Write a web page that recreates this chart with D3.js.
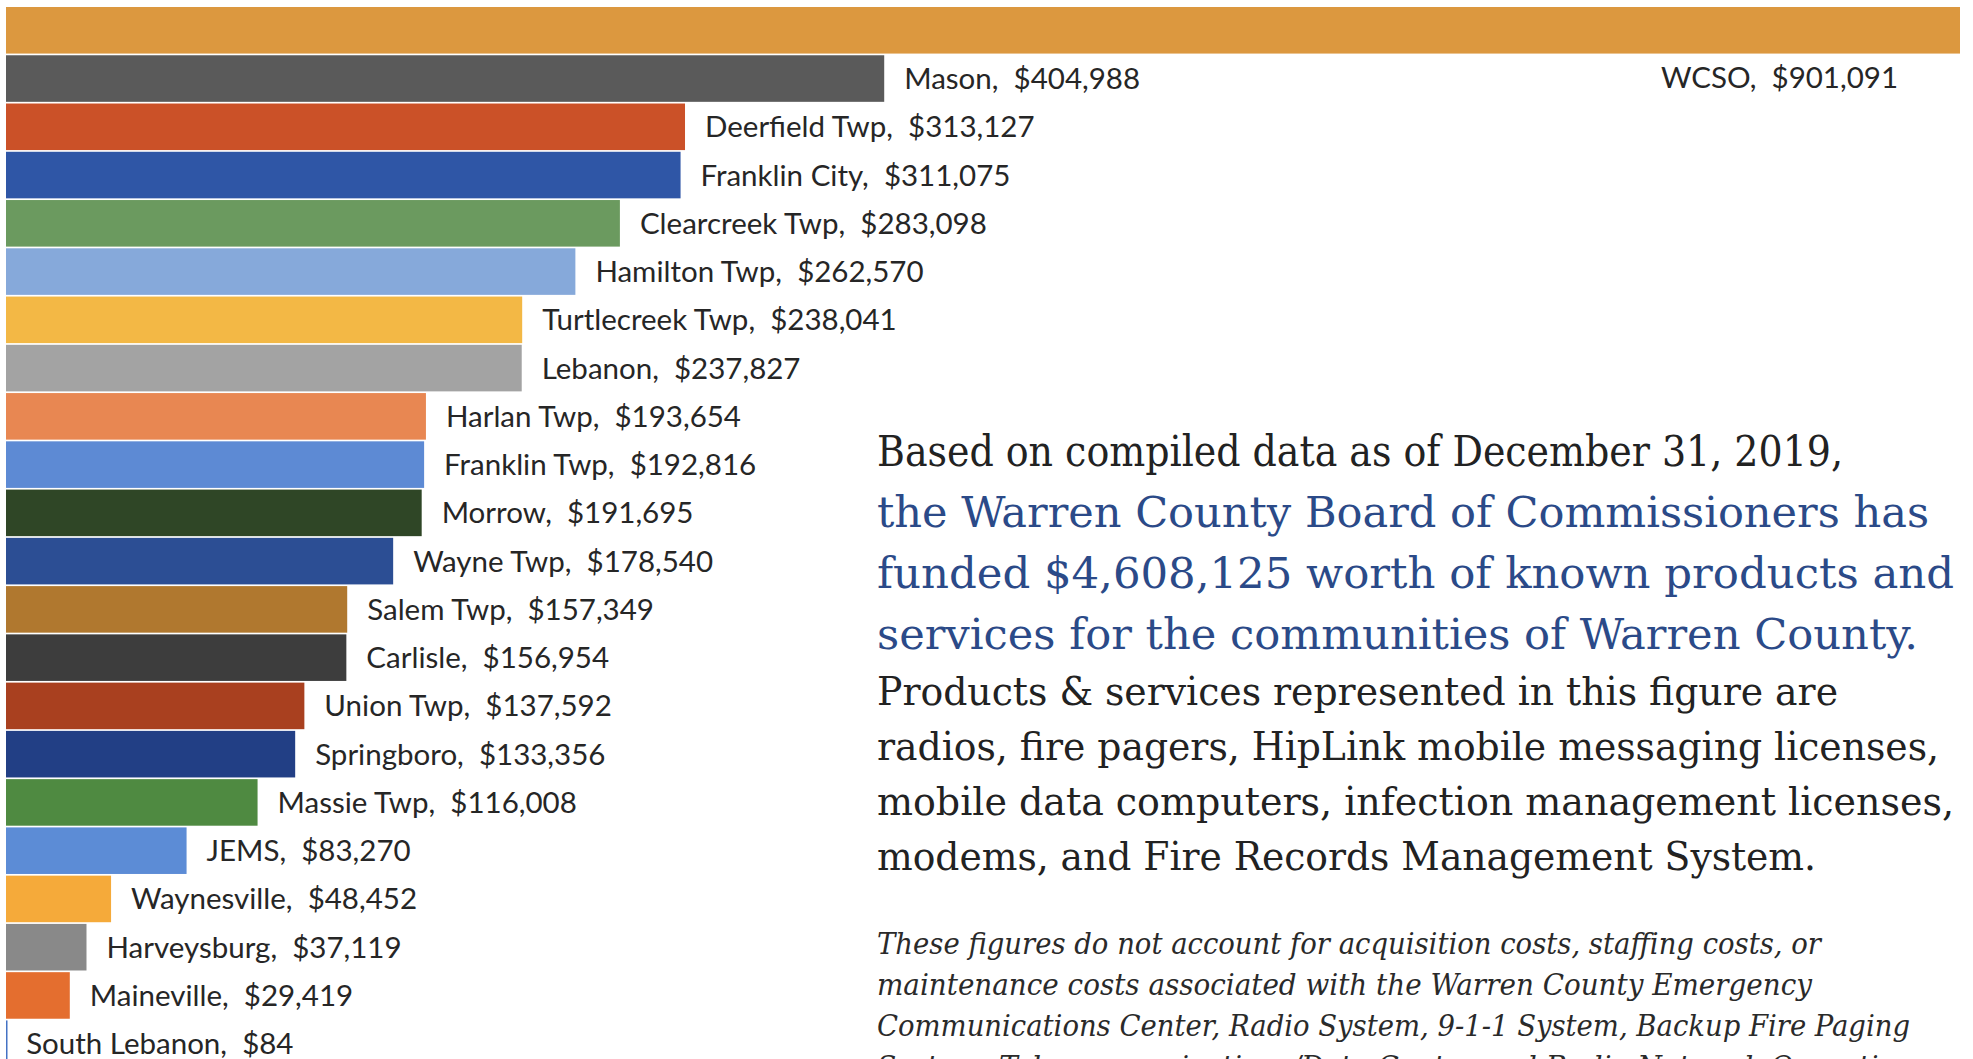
<!DOCTYPE html>
<html>
<head>
<meta charset="utf-8">
<script src="https://cdn.jsdelivr.net/npm/d3@7"></script>
<style>
  html, body { margin: 0; padding: 0; background: #fff; }
  svg { display: block; }
  .bar-label { font-family: Lato, 'Open Sans', sans-serif; font-size: 29.5px; fill: #262626; white-space: pre; }
  .note { font-family: 'DejaVu Serif Condensed', 'DejaVu Serif', serif; white-space: pre; }
</style>
</head>
<body>
<div id="draw-space"></div>
<script>
const places = ['WCSO', 'Mason', 'Deerfield Twp', 'Franklin City', 'Clearcreek Twp', 'Hamilton Twp',
                'Turtlecreek Twp', 'Lebanon', 'Harlan Twp', 'Franklin Twp', 'Morrow', 'Wayne Twp',
                'Salem Twp', 'Carlisle', 'Union Twp', 'Springboro', 'Massie Twp', 'JEMS',
                'Waynesville', 'Harveysburg', 'Maineville', 'South Lebanon'];

const funded = [901091, 404988, 313127, 311075, 283098, 262570, 238041, 237827, 193654, 192816,
                191695, 178540, 157349, 156954, 137592, 133356, 116008, 83270, 48452, 37119, 29419, 84];

const barColors = ['#dc983f', '#5a5a5a', '#cb5128', '#2f56a6', '#6b9a5f', '#86a9da', '#f3b845',
                   '#a3a3a3', '#e88752', '#5d8ad4', '#2f4626', '#2c4e94', '#b0782f', '#3d3d3d',
                   '#a9401f', '#223f85', '#4f8a41', '#5c8cd6', '#f5aa3a', '#898989', '#e46e2f', '#4472c4'];

const introLines = ['Based on compiled data as of December 31, 2019,',
                    'the Warren County Board of Commissioners has',
                    'funded $4,608,125 worth of known products and',
                    'services for the communities of Warren County.'];

const productLines = ['Products & services represented in this figure are',
                      'radios, fire pagers, HipLink mobile messaging licenses,',
                      'mobile data computers, infection management licenses,',
                      'modems, and Fire Records Management System.'];

const caveatLines = ['These figures do not account for acquisition costs, staffing costs, or',
                     'maintenance costs associated with the Warren County Emergency',
                     'Communications Center, Radio System, 9-1-1 System, Backup Fire Paging',
                     'System, Telecommunications/Data Center and Radio Network Operations.'];

// measured rendered line lengths in the reference (layout only)
const introWidths = [966, 1052, 1077, 1041];
const productWidths = [961, 1062, 1077, 939];
const caveatWidths = [944, 935, 1033, 1060];

const W = 1973, H = 1059;
const data = places.map((p, i) => ({ name: p, value: funded[i], color: barColors[i] }));

const svg = d3.select('#draw-space').append('svg')
              .attr('width', W)
              .attr('height', H);

const xScale = d3.scaleLinear()
                 .domain([0, d3.max(funded)])
                 .range([6, 1960]);

const yScale = d3.scaleBand()
                 .domain(places)
                 .range([7, 1067])
                 .paddingInner(0.035);

svg.selectAll('.bar')
   .data(data)
   .enter()
   .append('rect')
     .attr('class', 'bar')
     .attr('x', xScale(0))
     .attr('y', d => yScale(d.name))
     .attr('width', d => Math.max(xScale(d.value) - xScale(0), 1.5))
     .attr('height', yScale.bandwidth())
     .attr('fill', d => d.color);

const fmt = d3.format('$,');

svg.selectAll('.bar-label')
   .data(data)
   .enter()
   .append('text')
     .attr('class', 'bar-label')
     .attr('x', (d, i) => i === 0 ? xScale(d.value) - 62 : xScale(d.value) + 20)
     .attr('y', (d, i) => i === 0 ? yScale(d.name) + yScale.bandwidth() + 34
                                  : yScale(d.name) + yScale.bandwidth() / 2 + 10.5)
     .attr('text-anchor', (d, i) => i === 0 ? 'end' : 'start')
     .text(d => d.name + ',  ' + fmt(d.value));

// paragraph blocks, each line squeezed to the length it has in the reference
function block(lines, widths, opts) {
  const g = svg.append('g').attr('class', 'note');
  g.selectAll('text')
   .data(lines)
   .enter()
   .append('text')
     .attr('x', 877)
     .attr('y', (d, i) => opts.y + i * opts.step)
     .attr('font-size', opts.size)
     .attr('font-style', opts.italic ? 'italic' : 'normal')
     .attr('fill', (d, i) => opts.color(i))
     .attr('textLength', (d, i) => widths[i])
     .attr('lengthAdjust', 'spacingAndGlyphs')
     .text(d => d);
}

block(introLines, introWidths, { y: 466, step: 61, size: 42,
                                 color: i => i === 0 ? '#222' : '#2b4a88' });
block(productLines, productWidths, { y: 705, step: 55, size: 39, color: () => '#222' });
block(caveatLines, caveatWidths, { y: 954, step: 41, size: 29, italic: true, color: () => '#2a2a2a' });
</script>
</body>
</html>
